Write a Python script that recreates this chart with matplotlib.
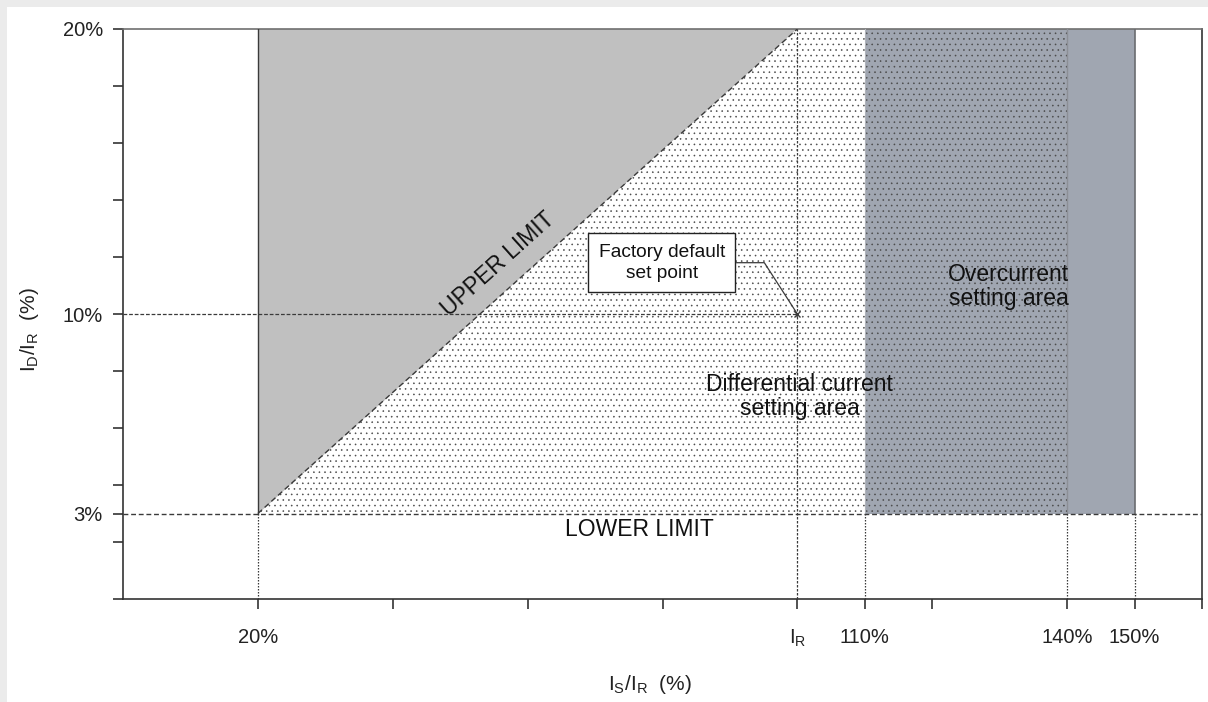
import matplotlib
matplotlib.use("Agg")
import matplotlib.pyplot as plt
from matplotlib.patches import Rectangle, Polygon

plt.rcParams['font.family'] = ['Liberation Sans', 'DejaVu Sans']
plt.rcParams['mathtext.fontset'] = 'custom'
plt.rcParams['mathtext.rm'] = 'Liberation Sans'
plt.rcParams['mathtext.it'] = 'Liberation Sans'
plt.rcParams['hatch.linewidth'] = 0.4

# ---- data ----
x_min, x_max = 0, 160
y_min, y_max = 0, 20
lower_limit = 3          # % ID/IR
upper_limit = 20         # % ID/IR
is_min = 20              # % IS/IR
is_rated = 100           # IR
diff_max = 110           # end of differential setting area
oc_min, oc_dot_max, oc_max = 110, 140, 150
default_is, default_id = 100, 10

x_ticks = [20, 40, 60, 80, 100, 110, 120, 140, 150, 160]
x_tick_labels = ['20%', '', '', '', r'$\mathregular{I_R}$', '110%', '', '140%', '150%', '']
y_ticks = [0, 2, 3, 4, 6, 8, 10, 12, 14, 16, 18, 20]
y_tick_labels = ['', '', '3%', '', '', '', '10%', '', '', '', '', '20%']

fig = plt.figure(figsize=(12.08, 7.02), dpi=100)
fig.patch.set_facecolor('#ebebeb')
fig.patches.append(Rectangle((7/1208, 0), 1, 1 - 7/702, transform=fig.transFigure,
                             facecolor='white', edgecolor='none', zorder=-10))
ax = fig.add_axes([123/1208, 1 - 599/702, (1202 - 123)/1208, (599 - 29)/702])
ax.set_zorder(1)
ax.set_xlim(x_min, x_max)
ax.set_ylim(y_min, y_max)

# overcurrent area
ax.add_patch(Rectangle((oc_min, lower_limit), oc_max - oc_min, upper_limit - lower_limit,
                       facecolor='#a0a6b1', edgecolor='none', zorder=1))
# grey region above upper limit
ax.add_patch(Polygon([(is_min, lower_limit), (is_min, upper_limit), (is_rated, upper_limit)],
                     closed=True, facecolor='#c0c0c0', edgecolor='none', zorder=1))
# dotted differential setting area
ax.add_patch(Polygon([(is_min, lower_limit), (is_rated, upper_limit),
                      (oc_dot_max, upper_limit), (oc_dot_max, lower_limit)],
                     closed=True, facecolor='none', edgecolor='#4a4a4a', hatch='...',
                     linewidth=0, zorder=2))

lc = '#3a3a3a'
# upper limit diagonal
ax.plot([is_min, is_rated], [lower_limit, upper_limit], color=lc, lw=1.0,
        dashes=(4, 2.5), zorder=4)
# left edge of grey region
ax.plot([is_min, is_min], [lower_limit, upper_limit], color=lc, lw=1.0, zorder=4)
# lower limit dashed
ax.plot([x_min, x_max], [lower_limit, lower_limit], color=lc, lw=1.0, dashes=(3.5, 2), zorder=4)
# 10% line
ax.plot([x_min, default_is], [default_id, default_id], color=lc, lw=0.9, dashes=(3, 1.5), zorder=4)
# IR vertical
ax.plot([is_rated, is_rated], [y_min, upper_limit], color=lc, lw=0.9, dashes=(2, 1.2), zorder=4)
# verticals below lower limit
for xv in [is_min, oc_min, oc_dot_max, oc_max]:
    ax.plot([xv, xv], [y_min, lower_limit], color=lc, lw=0.9, dashes=(1.2, 1.2), zorder=4)
# overcurrent borders
ax.plot([oc_dot_max, oc_dot_max], [lower_limit, upper_limit], color='#8c8f96', lw=1.0, zorder=3)
ax.plot([oc_max, oc_max], [lower_limit, upper_limit], color='#6a6c70', lw=1.2, zorder=3)
ax.plot([oc_min, oc_min], [lower_limit, upper_limit], color='#b0b4bb', lw=0.8, zorder=3)

# default set point
ax.plot([default_is], [default_id], marker='x', color=lc, ms=5, mew=1.0, zorder=5)
box_x, box_y = 79.9, 11.8
bend_x = 95.1
box_right = 91.0
ax.text(box_x, box_y, 'Factory default\nset point', ha='center', va='center', fontsize=13.8,
        color='#111111', linespacing=1.3, zorder=6,
        bbox=dict(boxstyle='square,pad=0.55', facecolor='white', edgecolor='#222222', lw=1.0))
ax.plot([box_right, bend_x, default_is], [box_y, box_y, default_id], color=lc, lw=0.9, zorder=5)

# labels in plot
tc = '#111111'
ax.text(55.6, 11.75, 'UPPER LIMIT', rotation=41.9, ha='center', va='center', fontsize=16.5,
        color=tc, rotation_mode='anchor', zorder=6)
ax.text(100.3, 7.1, 'Differential current\nsetting area', ha='center', va='center',
        fontsize=16.5, color=tc, linespacing=1.05, zorder=6)
ax.text(131.3, 10.95, 'Overcurrent\nsetting area', ha='center', va='center',
        fontsize=16.5, color=tc, linespacing=1.05, zorder=6)
ax.text(76.6, 2.45, 'LOWER LIMIT', ha='center', va='center', fontsize=16.5, color=tc, zorder=6)

# axes styling
for s in ax.spines.values():
    s.set_color('#333333')
    s.set_linewidth(1.2)
ax.spines['top'].set_color('#707070')
ax.set_xticks(x_ticks)
ax.set_xticklabels(x_tick_labels)
ax.set_yticks(y_ticks)
ax.set_yticklabels(y_tick_labels)
ax.tick_params(axis='x', direction='out', length=7, width=1.2, color='#333333',
               pad=14, labelsize=14.5, labelcolor='#222222')
ax.tick_params(axis='y', direction='out', length=7.5, width=1.2, color='#333333',
               pad=7, labelsize=14.5, labelcolor='#222222')

fig.text(650/1208, 1 - 685/702, r'$\mathregular{I_S/I_R}$  (%)', ha='center', va='center',
         fontsize=15, color='#222222')
fig.text(30/1208, 1 - 330/702, r'$\mathregular{I_D/I_R}$  (%)', ha='center', va='center',
         fontsize=15, color='#222222', rotation=90)

fig.savefig('out.png', dpi=100)
